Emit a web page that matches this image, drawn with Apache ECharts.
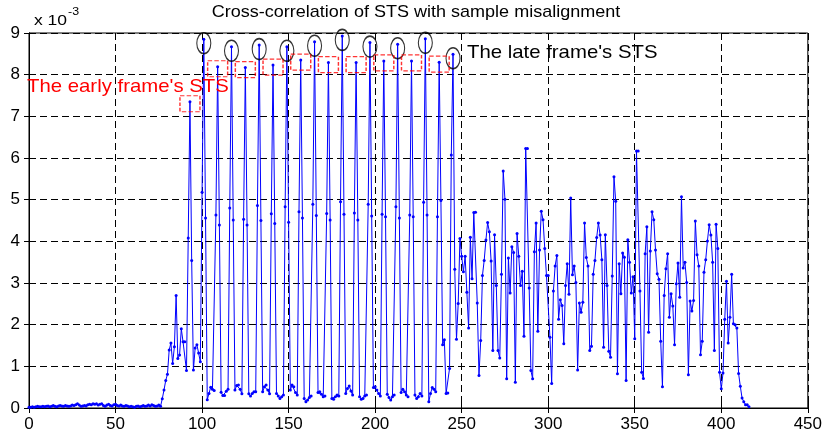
<!DOCTYPE html>
<html>
<head>
<meta charset="utf-8">
<script src="https://cdn.jsdelivr.net/npm/echarts@6/dist/echarts.min.js"></script>
<style>
  html, body { margin: 0; padding: 0; background: #fff; }
  #main { width: 825px; height: 438px; }
</style>
</head>
<body>
<div id="main"></div>
<script>
// cross-correlation magnitude per sample index (units of 1e-3)
const corr = [
  0.02, 0.02, 0.03, 0.02, 0.03, 0.04, 0.03, 0.03, 0.04, 0.03, // 0
  0.04, 0.05, 0.03, 0.04, 0.06, 0.04, 0.03, 0.05, 0.06, 0.05, // 10
  0.04, 0.06, 0.05, 0.04, 0.05, 0.07, 0.06, 0.08, 0.10, 0.07, // 20
  0.04, 0.05, 0.06, 0.05, 0.08, 0.09, 0.08, 0.10, 0.09, 0.10, // 30
  0.07, 0.09, 0.10, 0.06, 0.04, 0.07, 0.09, 0.06, 0.05, 0.08, // 40
  0.09, 0.06, 0.05, 0.07, 0.05, 0.04, 0.06, 0.05, 0.03, 0.04, // 50
  0.03, 0.02, 0.04, 0.05, 0.03, 0.04, 0.06, 0.04, 0.05, 0.07, // 60
  0.05, 0.08, 0.06, 0.04, 0.05, 0.07, 0.04, 0.22, 0.43, 0.66, // 70
  0.81, 1.39, 1.56, 1.07, 1.47, 2.70, 1.19, 1.27, 1.90, 1.59, // 80
  1.59, 0.90, 4.08, 7.35, 3.54, 0.91, 1.44, 1.52, 1.32, 1.11, // 90
  5.18, 8.85, 4.56, 0.20, 0.35, 0.50, 0.45, 0.42, 4.63, 8.19, // 100
  4.39, 0.38, 0.30, 0.30, 0.40, 0.45, 4.80, 8.67, 4.51, 0.43, // 110
  0.54, 0.55, 0.45, 0.34, 4.53, 8.17, 4.39, 0.34, 0.29, 0.35, // 120
  0.39, 0.39, 4.86, 8.71, 4.50, 0.39, 0.51, 0.55, 0.43, 0.34, // 130
  4.66, 8.23, 4.43, 0.35, 0.29, 0.23, 0.27, 0.31, 4.83, 8.67, // 140
  4.46, 0.43, 0.55, 0.51, 0.37, 0.31, 4.71, 8.35, 4.56, 0.23, // 150
  0.15, 0.19, 0.25, 0.29, 4.89, 8.79, 4.62, 0.37, 0.39, 0.33, // 160
  0.27, 0.29, 4.67, 8.29, 4.51, 0.23, 0.21, 0.27, 0.31, 0.29, // 170
  4.95, 8.93, 4.65, 0.35, 0.47, 0.53, 0.41, 0.31, 4.68, 8.29, // 180
  4.51, 0.27, 0.21, 0.23, 0.29, 0.31, 4.89, 8.77, 4.61, 0.49, // 190
  0.51, 0.43, 0.35, 0.29, 4.65, 8.33, 4.59, 0.33, 0.25, 0.19, // 200
  0.27, 0.31, 4.83, 8.73, 4.56, 0.37, 0.45, 0.39, 0.31, 0.27, // 210
  4.63, 8.33, 4.59, 0.31, 0.23, 0.27, 0.35, 0.29, 4.94, 8.86, // 220
  4.63, 0.15, 0.35, 0.49, 0.45, 0.39, 4.59, 8.30, 4.98, 1.52, // 230
  1.64, 0.35, 0.36, 0.95, 6.07, 8.49, 3.33, 1.65, 2.51, 4.07, // 240
  3.64, 3.27, 3.64, 2.78, 1.92, 4.10, 3.10, 4.69, 4.70, 2.52, // 250
  0.78, 1.62, 3.18, 3.54, 4.03, 4.45, 4.23, 3.53, 1.38, 4.16, // 260
  2.94, 1.38, 1.20, 3.21, 5.69, 5.01, 0.70, 3.60, 2.76, 3.87, // 270
  3.73, 0.62, 4.19, 3.64, 2.94, 3.28, 1.72, 6.23, 6.23, 2.88, // 280
  0.90, 0.70, 3.75, 4.44, 1.84, 3.79, 4.72, 4.52, 3.83, 3.18, // 290
  3.18, 1.70, 0.59, 2.81, 3.41, 3.66, 2.13, 2.60, 2.46, 1.54, // 300
  2.94, 3.46, 2.73, 5.04, 3.20, 3.41, 3.01, 0.91, 2.52, 2.30, // 310
  2.54, 4.44, 3.61, 3.41, 1.38, 1.48, 3.21, 3.54, 4.09, 4.44, // 320
  4.15, 3.56, 1.46, 4.16, 2.94, 1.36, 1.22, 3.17, 5.55, 4.96, // 330
  0.82, 3.46, 2.74, 3.72, 3.62, 0.66, 4.04, 3.50, 2.76, 3.15, // 340
  1.66, 6.17, 6.17, 2.81, 0.86, 0.71, 3.70, 4.35, 1.82, 3.77, // 350
  4.71, 4.52, 3.79, 3.22, 3.09, 1.60, 0.51, 2.70, 3.34, 3.70, // 360
  2.18, 2.74, 2.45, 1.52, 2.98, 3.48, 2.66, 5.07, 3.36, 3.50, // 370
  3.01, 0.80, 2.57, 2.33, 2.58, 4.49, 3.68, 3.41, 1.28, 1.60, // 380
  3.26, 3.56, 4.01, 4.40, 4.15, 3.50, 1.38, 4.41, 3.83, 0.86, // 390
  0.46, 0.84, 2.13, 3.04, 1.56, 2.18, 3.21, 2.02, 2.00, 1.92, // 400
  0.83, 0.52, 0.24, 0.15, 0.08, 0.08, 0.03                    // 410
]

// sample indices of the peaks that are marked
const earlyPeaks = [93, 109, 125, 141, 157, 173, 189, 205, 221, 237]
const latePeaks = [101, 117, 133, 149, 165, 181, 197, 213, 229, 245]

const xTicks = { min: 0, max: 450, interval: 50 }
const yTicks = { min: 0, max: 9, interval: 1 }

const titleText = 'Cross-correlation of STS with sample misalignment'
const earlyText = "The early frame's STS"
const lateText = "The late frame's STS"

const FONT = 'Liberation Sans, Arial, sans-serif'

const chart = echarts.init(document.getElementById('main'))

const gridLine = {
  show: true,
  lineStyle: { color: '#000', width: 1, type: [7, 4] }
}

// the source picture is a bit stretched sideways, so texts get scaleX
function label(text, x, y, size, color, opts) {
  return Object.assign({
    type: 'text',
    x: x,
    y: y,
    z: 100,
    scaleX: 1.1,
    style: {
      text: text,
      font: size + 'px ' + FONT,
      fill: color,
      textVerticalAlign: 'middle'
    }
  }, opts || {})
}

const option = {
  animation: false,
  backgroundColor: '#fff',
  grid: {
    left: 29,
    right: 17,
    top: 33,
    bottom: 30,
    show: true,
    borderColor: '#000',
    borderWidth: 1,
    backgroundColor: '#fff'
  },
  graphic: [
    (function () {
      const t = label(titleText, 416, 12, 17, '#000', { scaleX: 1.06 })
      t.style.textAlign = 'center'
      return t
    })(),
    label('x 10', 34, 20.5, 15.5, '#000', { scaleX: 1.13 }),
    label('-3', 68, 12, 11, '#000', { scaleX: 1.13 }),
    label(earlyText, 27, 87, 18.5, '#ff0000'),
    label(lateText, 467, 53, 18.5, '#000')
  ],
  xAxis: [
    {
      type: 'value',
      min: xTicks.min,
      max: xTicks.max,
      interval: xTicks.interval,
      axisLine: { show: true, lineStyle: { color: '#000', width: 1 } },
      axisTick: { show: true, inside: true, length: 5, lineStyle: { color: '#000' } },
      axisLabel: { color: '#000', fontSize: 17, fontFamily: FONT, margin: 8 },
      splitLine: gridLine
    },
    {
      type: 'value',
      position: 'top',
      min: xTicks.min,
      max: xTicks.max,
      interval: xTicks.interval,
      axisLine: { show: true, lineStyle: { color: '#000', width: 1 } },
      axisTick: { show: true, inside: true, length: 5, lineStyle: { color: '#000' } },
      axisLabel: { show: false },
      splitLine: { show: false }
    }
  ],
  yAxis: [
    {
      type: 'value',
      min: yTicks.min,
      max: yTicks.max,
      interval: yTicks.interval,
      axisLine: { show: true, lineStyle: { color: '#000', width: 1 } },
      axisTick: { show: true, inside: true, length: 5, lineStyle: { color: '#000' } },
      axisLabel: { color: '#000', fontSize: 17, fontFamily: FONT, margin: 9 },
      splitLine: gridLine
    },
    {
      type: 'value',
      position: 'right',
      min: yTicks.min,
      max: yTicks.max,
      interval: yTicks.interval,
      axisLine: { show: true, lineStyle: { color: '#000', width: 1 } },
      axisTick: { show: true, inside: true, length: 5, lineStyle: { color: '#000' } },
      axisLabel: { show: false },
      splitLine: { show: false }
    }
  ],
  series: [
    {
      type: 'line',
      data: corr.map((v, i) => [i, v]),
      symbol: 'circle',
      symbolSize: 3,
      showAllSymbol: true,
      lineStyle: { color: '#0000ff', width: 1 },
      itemStyle: { color: '#0000ff' },
      silent: true,
      z: 3
    },
    {
      // late frame peaks
      type: 'scatter',
      data: latePeaks.map(i => [i, corr[i]]),
      symbol: 'circle',
      symbolSize: [14, 21],
      symbolOffset: [0, 4],
      itemStyle: { color: 'transparent', borderColor: '#000', borderWidth: 1.3 },
      silent: true,
      z: 4
    },
    {
      // early frame peaks
      type: 'scatter',
      data: earlyPeaks.map(i => [i, corr[i]]),
      symbol: 'rect',
      symbolSize: [20, 16],
      symbolOffset: [0, 2],
      itemStyle: { color: 'transparent', borderColor: '#ff0000', borderWidth: 1.3, borderType: [4, 2] },
      silent: true,
      z: 4
    }
  ]
}

chart.setOption(option)
</script>
</body>
</html>
